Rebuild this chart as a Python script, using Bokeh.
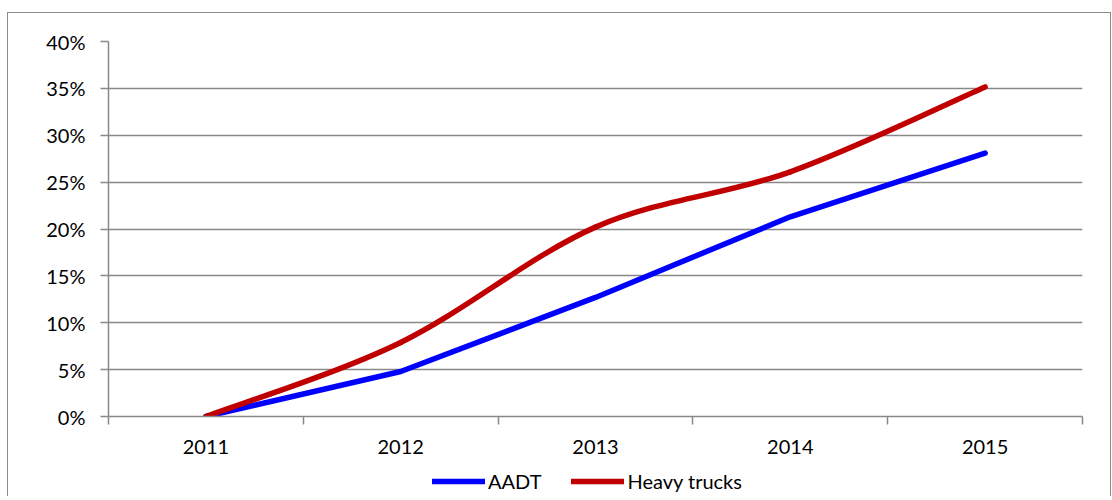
from bokeh.plotting import figure
from bokeh.layouts import column
from bokeh.models import Range1d, FixedTicker, PrintfTickFormatter, Legend, LegendItem
from bokeh.embed import file_html
from bokeh.resources import INLINE

# ---- data ----
years = ["2011", "2012", "2013", "2014", "2015"]
aadt = [0.0, 4.8, 12.7, 21.3, 28.1]          # %
heavy_trucks = [0.0, 7.9, 20.2, 26.1, 35.15]  # %
y_ticks = [0, 5, 10, 15, 20, 25, 30, 35, 40]
series_names = ["AADT", "Heavy trucks"]
series_colors = ["#0000FF", "#C00000"]

GRAY = "#898989"
FONT = "Lato"
W = 1102

xs = [i + 0.5 for i in range(len(years))]
boundaries = list(range(len(years) + 1))

p = figure(width=W, height=453, output_backend="svg", toolbar_location=None,
           x_range=Range1d(0, len(years)), y_range=Range1d(0, 40),
           min_border_left=100, min_border_right=28, min_border_top=28,
           min_border_bottom=50)
p.outline_line_color = None
p.background_fill_color = "white"
p.border_fill_color = "white"

# axes
xa = p.xaxis[0]
xa.ticker = FixedTicker(ticks=xs, minor_ticks=boundaries)
xa.major_label_overrides = {x: y for x, y in zip(xs, years)}
xa.major_tick_out = 0
xa.major_tick_in = 0
xa.minor_tick_out = 8
xa.minor_tick_in = 0
xa.minor_tick_line_color = GRAY
xa.minor_tick_line_width = 1.5
xa.axis_line_color = GRAY
xa.axis_line_width = 1.5
xa.major_label_text_font = FONT
xa.major_label_text_font_size = "20px"
xa.major_label_text_color = "black"
xa.major_label_standoff = 15

ya = p.yaxis[0]
ya.ticker = FixedTicker(ticks=y_ticks)
ya.formatter = PrintfTickFormatter(format="%d%%")
ya.major_tick_out = 8
ya.major_tick_in = 0
ya.minor_tick_out = 0
ya.minor_tick_in = 0
ya.major_tick_line_color = GRAY
ya.major_tick_line_width = 1.5
ya.axis_line_color = GRAY
ya.axis_line_width = 1.5
ya.major_label_text_font = FONT
ya.major_label_text_font_size = "20px"
ya.major_label_text_color = "black"
ya.major_label_standoff = 15

p.xgrid.visible = False
p.ygrid.ticker = FixedTicker(ticks=y_ticks)
p.ygrid.grid_line_color = GRAY
p.ygrid.grid_line_width = 1.5

# AADT: straight segments
p.line(xs, aadt, line_color=series_colors[0], line_width=5.5,
       line_cap="round", line_join="round")

# Heavy trucks: smoothed (Excel-like) curve via Bezier segments
n = len(xs)
x0, y0, x1, y1, cx0, cy0, cx1, cy1 = [], [], [], [], [], [], [], []
for i in range(n - 1):
    im, i2 = max(i - 1, 0), min(i + 2, n - 1)
    x0.append(xs[i]); y0.append(heavy_trucks[i])
    x1.append(xs[i + 1]); y1.append(heavy_trucks[i + 1])
    cx0.append(xs[i] + (xs[i + 1] - xs[im]) / 6)
    cy0.append(heavy_trucks[i] + (heavy_trucks[i + 1] - heavy_trucks[im]) / 6)
    cx1.append(xs[i + 1] - (xs[i2] - xs[i]) / 6)
    cy1.append(heavy_trucks[i + 1] - (heavy_trucks[i2] - heavy_trucks[i]) / 6)
p.bezier(x0=x0, y0=y0, x1=x1, y1=y1, cx0=cx0, cy0=cy0, cx1=cx1, cy1=cy1,
         line_color=series_colors[1], line_width=5.5, line_cap="round")

# ---- legend strip (separate figure below the chart) ----
# its ranges are placed away from the data, so the series themselves stay out of
# view there and only supply the legend swatches
lf = figure(width=W, height=30, output_backend="svg", toolbar_location=None,
            x_range=Range1d(100, 101), y_range=Range1d(100, 101),
            x_axis_type=None, y_axis_type=None,
            min_border_left=0, min_border_right=0, min_border_top=0, min_border_bottom=0)
lf.outline_line_color = None
lf.xgrid.visible = False
lf.ygrid.visible = False
lf.border_fill_color = "white"
items = []
for name, col, vals in zip(series_names, series_colors, [aadt, heavy_trucks]):
    r = lf.line(x=xs, y=vals, line_color=col, line_width=5.5, line_cap="round")
    items.append(LegendItem(label=name, renderers=[r]))
legend = Legend(items=items, orientation="horizontal", location=(324, 3),
                label_text_font=FONT, label_text_font_size="20px",
                label_text_color="black", glyph_width=53, glyph_height=20,
                label_standoff=3, spacing=30, padding=0, margin=0,
                border_line_color=None, background_fill_alpha=0)
lf.add_layout(legend, "center")

layout = column(p, lf, spacing=0)
layout.styles = {"border-top": "1px solid #8a8a8a", "border-left": "1px solid #8a8a8a",
                 "border-right": "1px solid #8a8a8a",
                 "margin-top": "12px", "margin-left": "7px"}

open("out.html", "w").write(file_html(layout, INLINE))
